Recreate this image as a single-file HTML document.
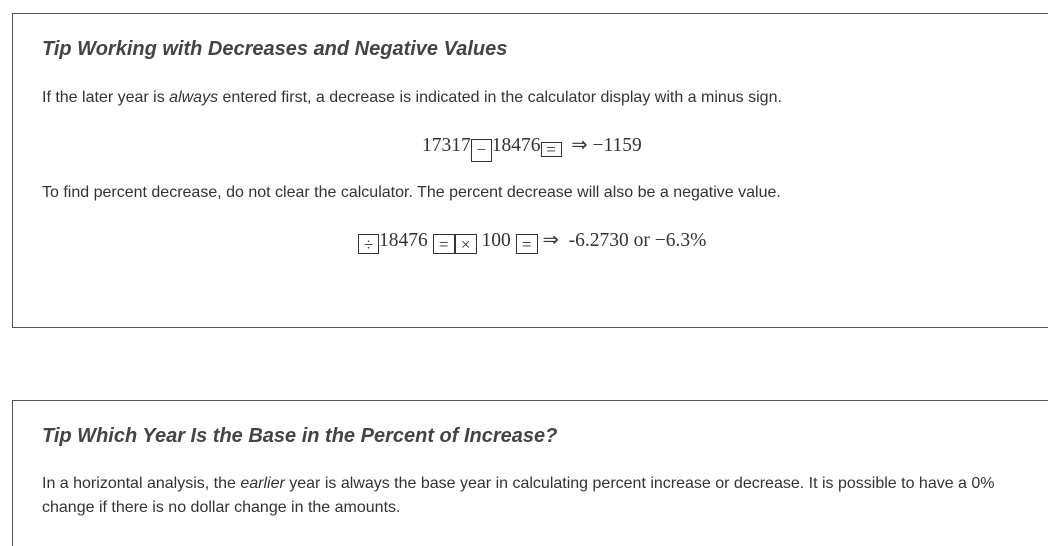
<!DOCTYPE html>
<html style="overflow:hidden"><head><style>
html,body{margin:0;width:1048px;height:546px;overflow:hidden}
body{background:#fff;font-family:"Liberation Sans",sans-serif;color:#333;position:relative}
.wrap{position:absolute;left:0;top:0;width:1048px;height:546px;overflow:hidden}
.box{position:absolute;left:12px;width:1060px;border:1px solid #555;box-sizing:border-box}
.t{position:absolute;left:42px;font-size:20px;font-weight:bold;font-style:italic;color:#444;white-space:nowrap}
.p{position:absolute;left:42px;font-size:16px;white-space:nowrap;line-height:24px}
.m{position:absolute;font-family:"Liberation Serif",serif;font-size:19.5px;color:#333;white-space:nowrap}
.k{display:inline-block;border:1px solid #333;height:20px;line-height:20px;vertical-align:-4px;text-align:center;font-size:17px;box-sizing:border-box}
</style></head><body><div class="wrap">
<div class="box" style="top:13px;height:315px"></div>
<div class="box" style="top:400px;height:170px"></div>
<div class="t" style="top:38px">Tip Working with Decreases and Negative Values</div>
<div class="p" style="top:86px">If the later year is <i>always</i> entered first, a decrease is indicated in the calculator display with a minus sign.</div>
<div class="m" style="left:422px;top:133px">17317<span class="k" style="width:21px;height:23px">−</span>18476<span class="k" style="width:21px;height:15px;line-height:13px">=</span> &nbsp;⇒ −1159</div>
<div class="p" style="top:181px">To find percent decrease, do not clear the calculator. The percent decrease will also be a negative value.</div>
<div class="m" style="left:358px;top:228px"><span class="k" style="width:21px">÷</span>18476 <span class="k" style="width:22px">=</span><span class="k" style="width:22px">×</span> 100 <span class="k" style="width:22px">=</span> ⇒ &nbsp;-6.2730 or −6.3%</div>
<div class="t" style="top:425px">Tip Which Year Is the Base in the Percent of Increase?</div>
<div class="p" style="top:472px">In a horizontal analysis, the <i>earlier</i> year is always the base year in calculating percent increase or decrease. It is possible to have a 0%<br>change if there is no dollar change in the amounts.</div>
</div></body></html>
